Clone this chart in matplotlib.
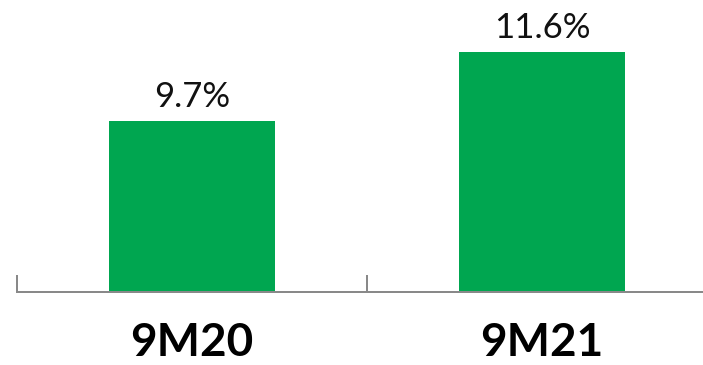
import matplotlib.pyplot as plt

categories = ["9M20", "9M21"]
values = [9.7, 11.6]
value_labels = ["9.7%", "11.6%"]

bar_color = "#00A650"
axis_color = "#898989"
px = 72.0 / 100  # points per pixel at dpi 100

fig = plt.figure(figsize=(7.03, 3.65), dpi=100)
# axes runs off the right edge, as in the original
ax = fig.add_axes([17 / 703, 73 / 365, 700 / 703, 292 / 365])

x = list(range(len(categories)))
ax.bar(x, values, width=0.477, color=bar_color, bottom=0)
ax.set_xlim(-0.5, 1.5)
ax.set_ylim(5, 13.04)

for xi, v, lab in zip(x, values, value_labels):
    ax.annotate(lab, xy=(xi, v), xytext=(0, 14 * px), textcoords="offset points",
                ha="center", va="baseline", fontsize=25, family="Lato", color="#111111")

for side in ["top", "left", "right"]:
    ax.spines[side].set_visible(False)
ax.spines["bottom"].set_color(axis_color)
ax.spines["bottom"].set_linewidth(2 * px)

ax.set_yticks([])
ax.set_xticks(x)
ax.set_xticklabels(categories, fontsize=33, fontweight="bold", family="Lato")
ax.tick_params(axis="x", which="major", length=0, pad=64 * px)
for lbl in ax.get_xticklabels():
    lbl.set_va("baseline")

ax.set_xticks([-0.5, 0.5, 1.5], minor=True)
ax.tick_params(axis="x", which="minor", direction="in", length=17 * px,
               width=2 * px, color=axis_color)

fig.savefig("out.png", dpi=100)
